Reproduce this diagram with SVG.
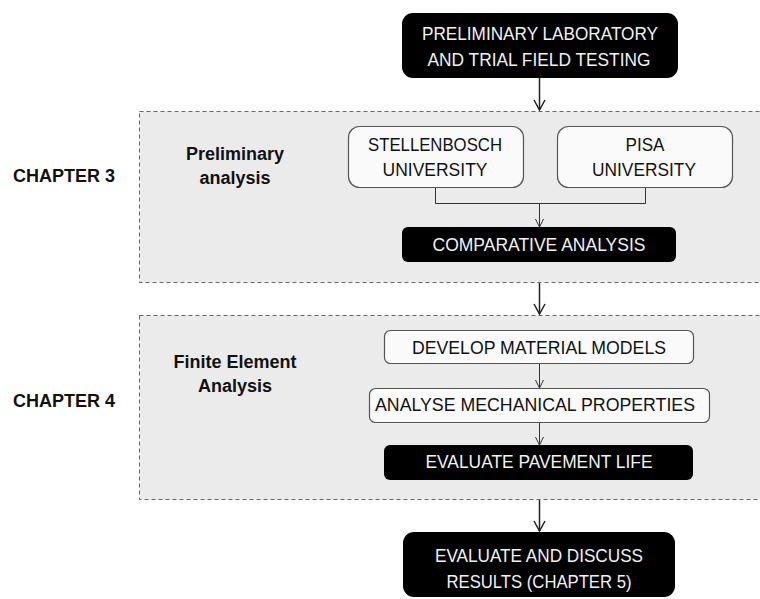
<svg xmlns="http://www.w3.org/2000/svg" width="760" height="599" viewBox="0 0 760 599">
  <style>
    .section { fill: #ebebeb; stroke: #666666; stroke-width: 1; stroke-dasharray: 4 3; }
    .dark { fill: #000000; }
    .light { fill: #fafafa; stroke: #555555; stroke-width: 1.2; }
    .t { font-family: "Liberation Sans", Arial, sans-serif; font-size: 18px; text-anchor: middle; }
    .tw { fill: #f2f2f2; }
    .tb { fill: #111111; }
    .lbl { font-family: "Liberation Sans", Arial, sans-serif; font-size: 18px; font-weight: bold; fill: #111111; }
    .mid { text-anchor: middle; }
    .flow { fill: none; stroke: #222222; stroke-width: 1.5; }
    .thin { fill: none; stroke: #333333; stroke-width: 1; }
  </style>
  <defs>
    <marker id="vbig" markerUnits="userSpaceOnUse" viewBox="-1 -7 12 14" markerWidth="12" markerHeight="14" refX="10" refY="0" orient="auto">
      <path d="M0,-5.5 L10,0 L0,5.5" fill="none" stroke="#222222" stroke-width="1.5"/>
    </marker>
    <marker id="vsmall" markerUnits="userSpaceOnUse" viewBox="-1 -6 10 12" markerWidth="10" markerHeight="12" refX="8" refY="0" orient="auto">
      <path d="M0,-4 L8,0 L0,4" fill="none" stroke="#333333" stroke-width="1"/>
    </marker>
  </defs>

  <!-- chapter bands -->
  <g id="chapter3">
    <rect class="section" x="139.5" y="111.5" width="630" height="171"/>
    <text class="lbl" x="13" y="182">CHAPTER 3</text>
    <text class="lbl mid" x="235" y="160">Preliminary</text>
    <text class="lbl mid" x="235" y="184">analysis</text>
  </g>
  <g id="chapter4">
    <rect class="section" x="139.5" y="315.5" width="630" height="184"/>
    <text class="lbl" x="13" y="407">CHAPTER 4</text>
    <text class="lbl mid" x="235" y="368">Finite Element</text>
    <text class="lbl mid" x="235" y="392">Analysis</text>
  </g>

  <!-- connectors -->
  <g id="connectors">
    <line class="flow" x1="539.5" y1="78" x2="539.5" y2="110" marker-end="url(#vbig)"/>
    <polyline class="thin" points="435.5,187 435.5,203.5 645.5,203.5 645.5,187"/>
    <line class="thin" x1="539.5" y1="203.5" x2="539.5" y2="227" marker-end="url(#vsmall)"/>
    <line class="flow" x1="539.5" y1="283" x2="539.5" y2="314" marker-end="url(#vbig)"/>
    <line class="thin" x1="539.5" y1="363" x2="539.5" y2="388" marker-end="url(#vsmall)"/>
    <line class="thin" x1="539.5" y1="422" x2="539.5" y2="445" marker-end="url(#vsmall)"/>
    <line class="flow" x1="539.5" y1="500" x2="539.5" y2="531" marker-end="url(#vbig)"/>
  </g>

  <!-- nodes -->
  <g id="preliminary-testing">
    <rect class="dark" x="402" y="13" width="276" height="65" rx="11"/>
    <text class="t tw" x="540" y="40" textLength="236" lengthAdjust="spacingAndGlyphs">PRELIMINARY LABORATORY</text>
    <text class="t tw" x="539" y="66" textLength="223" lengthAdjust="spacingAndGlyphs">AND TRIAL FIELD TESTING</text>
  </g>

  <g id="stellenbosch">
    <rect class="light" x="348.5" y="126.5" width="175" height="61" rx="11"/>
    <text class="t tb" x="435" y="151" textLength="134" lengthAdjust="spacingAndGlyphs">STELLENBOSCH</text>
    <text class="t tb" x="435" y="176" textLength="105" lengthAdjust="spacingAndGlyphs">UNIVERSITY</text>
  </g>

  <g id="pisa">
    <rect class="light" x="557.5" y="126.5" width="175" height="61" rx="11"/>
    <text class="t tb" x="645" y="151" textLength="39" lengthAdjust="spacingAndGlyphs">PISA</text>
    <text class="t tb" x="644" y="176" textLength="104" lengthAdjust="spacingAndGlyphs">UNIVERSITY</text>
  </g>

  <g id="comparative-analysis">
    <rect class="dark" x="402" y="227" width="274" height="35" rx="6"/>
    <text class="t tw" x="539" y="251" textLength="213" lengthAdjust="spacingAndGlyphs">COMPARATIVE ANALYSIS</text>
  </g>

  <g id="material-models">
    <rect class="light" x="384.5" y="330.5" width="309" height="33" rx="6"/>
    <text class="t tb" x="539" y="354" textLength="254" lengthAdjust="spacingAndGlyphs">DEVELOP MATERIAL MODELS</text>
  </g>

  <g id="mechanical-properties">
    <rect class="light" x="369.5" y="388.5" width="340" height="34" rx="6"/>
    <text class="t tb" x="535" y="411" textLength="320" lengthAdjust="spacingAndGlyphs">ANALYSE MECHANICAL PROPERTIES</text>
  </g>

  <g id="pavement-life">
    <rect class="dark" x="384" y="445" width="309" height="35" rx="6"/>
    <text class="t tw" x="539" y="468" textLength="227" lengthAdjust="spacingAndGlyphs">EVALUATE PAVEMENT LIFE</text>
  </g>

  <g id="discuss-results">
    <rect class="dark" x="403" y="532" width="272" height="65" rx="11"/>
    <text class="t tw" x="539" y="562" textLength="208" lengthAdjust="spacingAndGlyphs">EVALUATE AND DISCUSS</text>
    <text class="t tw" x="539" y="588" textLength="185" lengthAdjust="spacingAndGlyphs">RESULTS (CHAPTER 5)</text>
  </g>
</svg>
